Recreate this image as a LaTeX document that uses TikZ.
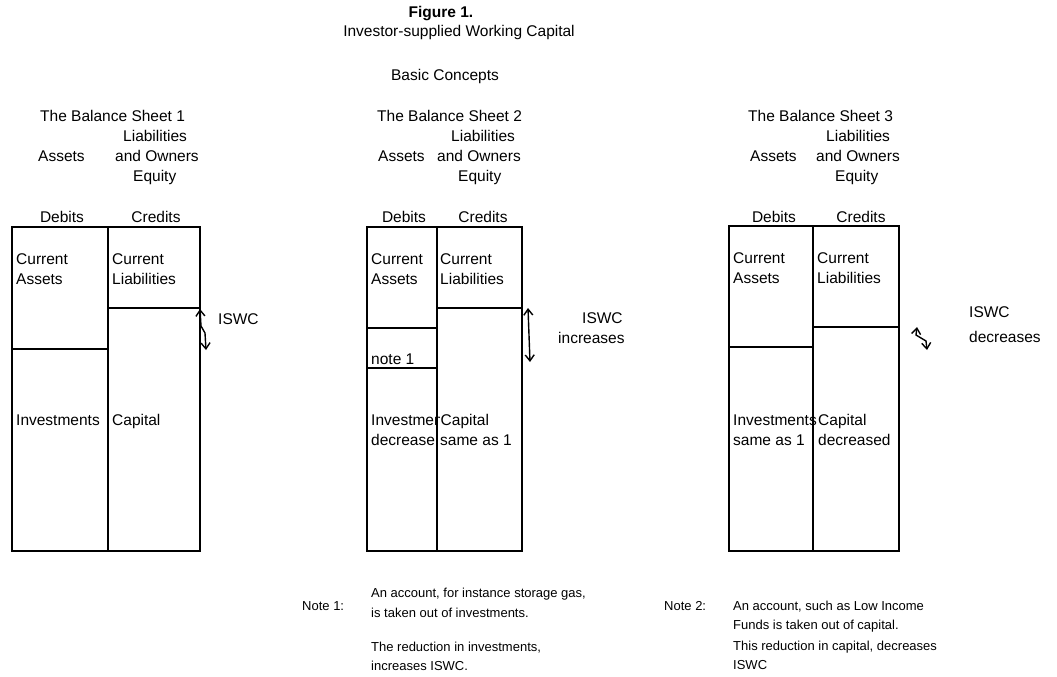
\documentclass[tikz,border=0pt]{standalone}
\usepackage{fontspec}
\setmainfont{Liberation Sans}
\usetikzlibrary{arrows.meta}
\newcommand{\bigfs}{\fontsize{15.5}{19}\selectfont}
\newcommand{\notefs}{\fontsize{13}{19}\selectfont}
\tikzset{
  lbl/.style={anchor=base west, inner sep=0pt, font=\bigfs},
  clbl/.style={anchor=base, inner sep=0pt, font=\bigfs},
  nlbl/.style={anchor=base west, inner sep=0pt, font=\notefs},
  outer/.style={line width=2.2pt},
  vdiv/.style={line width=1.9pt},
  hdiv/.style={line width=1.3pt},
  iswc/.style={line width=1.4pt, {Straight Barb[length=6pt,width=9pt]}-{Straight Barb[length=6pt,width=9pt]}},
}
\begin{document}
\begin{tikzpicture}[x=1pt,y=-1pt]
\useasboundingbox (0,0) rectangle (1057,677);
% titles
\node[clbl, font=\bigfs\bfseries] (fig) at (441,18) {Figure 1.};
\node[clbl] (tit) at (459,37) {Investor-supplied Working Capital};
\node[clbl] (basic) at (445,81) {Basic Concepts};

% ---------- Sheet 1 ----------
\node[lbl] (s1t) at (40,121) {The Balance Sheet 1};
\node[lbl] (s1l) at (123,141) {Liabilities};
\node[lbl] (s1a) at (38,161) {Assets};
\node[lbl] (s1o) at (115,161) {and Owners};
\node[lbl] (s1e) at (133,181) {Equity};
\node[clbl] (s1d) at (62,222) {Debits};
\node[clbl] (s1c) at (156,222) {Credits};
\draw[outer] (12,227) rectangle (200,551);
\draw[vdiv] (108,227) -- (108,551);
\draw[hdiv] (12,349) -- (108,349);
\draw[hdiv] (108,308) -- (200,308);
\node[lbl] (s1ca) at (16,264) {Current};
\node[lbl] (s1ca2) at (16,284) {Assets};
\node[lbl] (s1cl) at (112,264) {Current};
\node[lbl] (s1cl2) at (112,284) {Liabilities};
\node[lbl] (s1inv) at (16,425) {Investments};
\node[lbl] (s1cap) at (112,425) {Capital};
\coordinate (a1t) at (200,309);
\coordinate (a1b) at (206,350);
\draw[iswc] (a1t) -- (201,326) -- (205,333) -- (a1b);
\node[lbl] (s1i) at (218,324) {ISWC};

% ---------- Sheet 2 ----------
\node[lbl] (s2t) at (377,121) {The Balance Sheet 2};
\node[lbl] (s2l) at (451,141) {Liabilities};
\node[lbl] (s2a) at (378,161) {Assets};
\node[lbl] (s2o) at (437,161) {and Owners};
\node[lbl] (s2e) at (458,181) {Equity};
\node[clbl] (s2d) at (404,222) {Debits};
\node[clbl] (s2c) at (483,222) {Credits};
\draw[outer] (367,227) rectangle (522,551);
\draw[vdiv] (437,227) -- (437,551);
\draw[hdiv] (367,328) -- (437,328);
\draw[hdiv] (367,368) -- (437,368);
\draw[hdiv] (437,308) -- (522,308);
\node[lbl] (s2ca) at (371,264) {Current};
\node[lbl] (s2ca2) at (371,284) {Assets};
\node[lbl] (s2cl) at (440,264) {Current};
\node[lbl] (s2cl2) at (440,284) {Liabilities};
\node[lbl] (s2n) at (371,364) {note 1};
\node[lbl] (s2inv) at (371,425) {Investments};
\node[lbl] (s2inv2) at (371,445) {decrease};
\node[lbl, fill=white, inner xsep=0.5pt] (s2cap) at (440,425) {Capital};
\node[lbl] (s2cap2) at (440,445) {same as 1};
\coordinate (a2t) at (528,308);
\coordinate (a2b) at (530,362);
\draw[iswc] (a2t) -- (a2b);
\node[lbl] (s2i) at (582,323) {ISWC};
\node[lbl] (s2i2) at (558,343) {increases};

% ---------- Sheet 3 ----------
\node[lbl] (s3t) at (748,121) {The Balance Sheet 3};
\node[lbl] (s3l) at (826,141) {Liabilities};
\node[lbl] (s3a) at (750,161) {Assets};
\node[lbl] (s3o) at (816,161) {and Owners};
\node[lbl] (s3e) at (835,181) {Equity};
\node[clbl] (s3d) at (774,222) {Debits};
\node[clbl] (s3c) at (861,222) {Credits};
\draw[outer] (729,226) rectangle (899,551);
\draw[vdiv] (813,226) -- (813,551);
\draw[hdiv] (729,347) -- (813,347);
\draw[hdiv] (813,327) -- (899,327);
\node[lbl] (s3ca) at (733,263) {Current};
\node[lbl] (s3ca2) at (733,283) {Assets};
\node[lbl] (s3cl) at (817,263) {Current};
\node[lbl] (s3cl2) at (817,283) {Liabilities};
\node[lbl] (s3inv) at (733,425) {Investments};
\node[lbl] (s3inv2) at (733,445) {same as 1};
\node[lbl] (s3cap) at (818,425) {Capital};
\node[lbl] (s3cap2) at (818,445) {decreased};
\coordinate (a3t) at (917,327);
\coordinate (a3b) at (927,350);
\draw[iswc] (a3t) -- (916,335) -- (926,341) -- (a3b);
\node[lbl] (s3i) at (969,317) {ISWC};
\node[lbl] (s3i2) at (969,342) {decreases};

% ---------- Notes ----------
\node[nlbl] (n1) at (302,610) {Note 1:};
\node[nlbl] (n1a) at (371,597) {An account, for instance storage gas,};
\node[nlbl] (n1b) at (371,617) {is taken out of investments.};
\node[nlbl] (n1c) at (371,651) {The reduction in investments,};
\node[nlbl] (n1d) at (371,670) {increases ISWC.};
\node[nlbl] (n2) at (664,610) {Note 2:};
\node[nlbl] (n2a) at (733,610) {An account, such as Low Income};
\node[nlbl] (n2b) at (733,629) {Funds is taken out of capital.};
\node[nlbl] (n2c) at (733,650) {This reduction in capital, decreases};
\node[nlbl] (n2d) at (733,669) {ISWC};
\end{tikzpicture}
\end{document}
